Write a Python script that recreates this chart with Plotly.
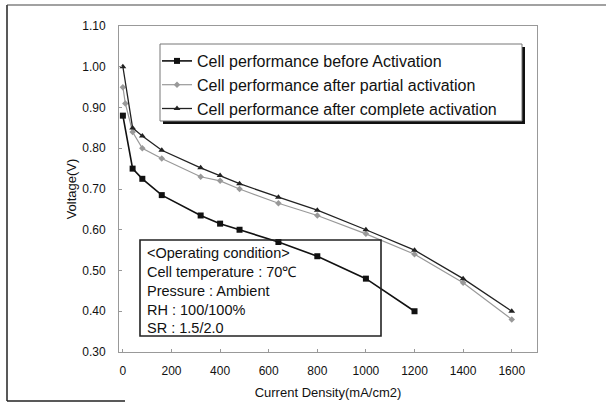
import plotly.graph_objects as go

# ---- data ----
x_before = [0, 40, 80, 160, 320, 400, 480, 640, 800, 1000, 1200]
v_before = [0.88, 0.75, 0.725, 0.685, 0.635, 0.615, 0.60, 0.57, 0.535, 0.48, 0.40]

x_partial = [0, 10, 40, 80, 160, 320, 400, 480, 640, 800, 1000, 1200, 1400, 1600]
v_partial = [0.95, 0.91, 0.84, 0.80, 0.775, 0.73, 0.72, 0.70, 0.665, 0.635, 0.59, 0.54, 0.47, 0.38]

x_complete = [0, 40, 80, 160, 320, 400, 480, 640, 800, 1000, 1200, 1400, 1600]
v_complete = [1.00, 0.85, 0.83, 0.795, 0.752, 0.733, 0.713, 0.68, 0.648, 0.60, 0.55, 0.48, 0.40]

names = ["Cell performance before Activation",
         "Cell performance after partial activation",
         "Cell performance after complete activation"]

x_ticks = [0, 200, 400, 600, 800, 1000, 1200, 1400, 1600]
y_ticks = [0.30, 0.40, 0.50, 0.60, 0.70, 0.80, 0.90, 1.00, 1.10]

cond_lines = ["&lt;Operating condition&gt;",
              "Cell temperature : 70℃",
              "Pressure : Ambient",
              "RH : 100/100%",
              "SR : 1.5/2.0"]

# ---- layout geometry (pixels) ----
W, H = 606, 407
L, R, T, B = 119, 537, 26, 352


def px(x):
    return (x - L) / (R - L)


def py(y):
    return (B - y) / (B - T)


FONT = "Liberation Sans, Arial, sans-serif"

fig = go.Figure()
fig.add_trace(go.Scatter(x=x_before, y=v_before, name=names[0], mode="lines+markers",
                         line=dict(color="#111111", width=1.6),
                         marker=dict(symbol="square", size=6, color="#111111"),
                         legendgroup="a"))
fig.add_trace(go.Scatter(x=x_partial, y=v_partial, name=names[1], mode="lines+markers",
                         line=dict(color="#999999", width=1.2),
                         marker=dict(symbol="diamond", size=5, color="#999999"),
                         legendgroup="b"))
fig.add_trace(go.Scatter(x=x_complete, y=v_complete, name=names[2], mode="lines+markers",
                         line=dict(color="#222222", width=1.3),
                         marker=dict(symbol="triangle-up", size=6, color="#222222"),
                         legendgroup="c"))

shapes = []
# legend box with shadow
shapes.append(dict(type="rect", xref="paper", yref="paper",
                   x0=px(163), x1=px(525), y0=py(124), y1=py(47),
                   fillcolor="#111111", line=dict(width=0), layer="above"))
shapes.append(dict(type="rect", xref="paper", yref="paper",
                   x0=px(160), x1=px(522), y0=py(121), y1=py(44),
                   fillcolor="white", line=dict(color="#777777", width=1), layer="above"))
# operating condition box
shapes.append(dict(type="rect", xref="paper", yref="paper",
                   x0=px(140), x1=px(381), y0=py(336), y1=py(240),
                   line=dict(color="#222222", width=1.6), layer="above"))
# outer frame
shapes.append(dict(type="line", xref="paper", yref="paper",
                   x0=px(7), x1=px(7), y0=py(401), y1=py(5),
                   line=dict(color="#222222", width=1.5)))
shapes.append(dict(type="line", xref="paper", yref="paper",
                   x0=px(7), x1=px(606), y0=py(5), y1=py(5),
                   line=dict(color="#444444", width=1.2)))
shapes.append(dict(type="line", xref="paper", yref="paper",
                   x0=px(7), x1=px(125), y0=py(401), y1=py(401),
                   line=dict(color="#222222", width=1.5)))

fig.update_layout(
    width=W, height=H,
    margin=dict(l=L, r=W - R, t=T, b=H - B, autoexpand=False),
    paper_bgcolor="white", plot_bgcolor="white",
    font=dict(family=FONT, color="#111111", size=12),
    shapes=shapes,
    showlegend=True,
    legend=dict(x=px(157), y=py(44), xanchor="left", yanchor="top",
                bgcolor="rgba(0,0,0,0)", borderwidth=0,
                font=dict(size=16, family=FONT, color="#111111"),
                traceorder="grouped", tracegroupgap=0, itemwidth=30),
    xaxis=dict(range=[-16, 1704], tickvals=x_ticks, ticktext=[str(v) for v in x_ticks],
               showgrid=False, zeroline=False, showline=True, mirror=True, automargin=False,
               linecolor="#999999", linewidth=1, ticks="inside", ticklen=3, tickcolor="#999999",
               tickfont=dict(size=12), ticklabelstandoff=8,
               title=dict(text="Current Density(mA/cm2)", font=dict(size=13), standoff=10)),
    yaxis=dict(range=[0.30, 1.10], tickvals=y_ticks, tickformat=".2f",
               showgrid=False, zeroline=False, showline=True, mirror=True, automargin=False,
               linecolor="#999999", linewidth=1, ticks="inside", ticklen=3, tickcolor="#999999",
               tickfont=dict(size=12), ticklabelstandoff=10,
               title=dict(text="Voltage(V)", font=dict(size=13), standoff=2)),
    annotations=[dict(xref="paper", yref="paper", x=px(145), y=py(243),
                      xanchor="left", yanchor="top", align="left", showarrow=False,
                      text="<br>".join(cond_lines),
                      font=dict(size=14.5, family=FONT, color="#111111"))],
)

fig.write_html("out.html")
